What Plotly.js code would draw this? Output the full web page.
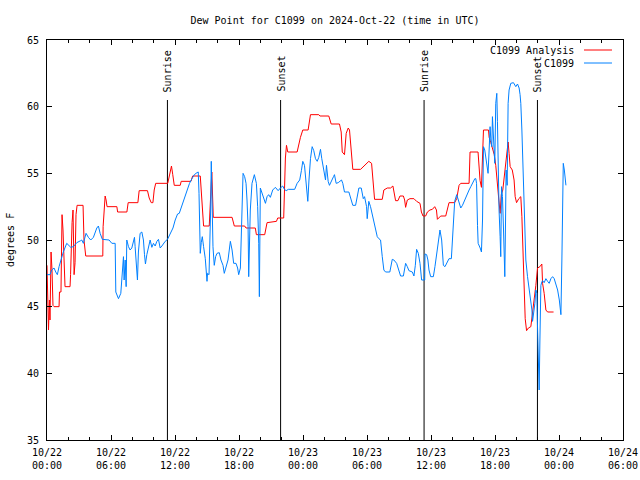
<!DOCTYPE html>
<html>
<head>
<meta charset="utf-8">
<script src="https://cdn.plot.ly/plotly-3.0.1.min.js"></script>
<style>html,body{margin:0;padding:0;background:#fff;}#chart{width:640px;height:480px;}</style>
</head>
<body>
<div id="chart"></div>
<script>
// Hours since 2024-10-22 00:00 UTC
var analysisHours = [0,0.05,0.14,0.23,0.28,0.38,0.47,0.56,0.66,1.13,1.17,1.31,1.41,1.50,1.60,1.69,2.16,2.21,2.35,2.44,2.54,2.63,2.72,2.82,3.38,3.47,3.63,5.23,5.26,5.45,5.54,5.63,6.55,6.62,7.49,7.61,8.52,8.64,9.42,9.58,9.77,9.93,10.05,10.19,11.32,11.43,11.55,11.67,11.79,11.93,12.49,12.58,13.50,13.65,14.37,14.53,14.68,15.21,15.40,15.45,15.59,17.35,17.56,18.53,18.66,19.53,19.63,20.41,20.63,21.51,21.63,22.19,22.35,22.45,22.57,23.45,23.76,23.98,24.48,24.70,25.48,25.59,26.42,26.64,27.42,27.58,27.68,27.89,28.05,28.24,28.36,28.48,28.67,29.40,29.65,29.87,30.17,30.43,30.64,30.71,31.43,31.58,31.90,32.21,32.43,32.52,32.68,32.90,33.09,33.41,33.53,33.62,33.78,34.03,34.40,34.65,34.97,35.10,35.25,35.50,35.66,35.90,36.13,36.35,36.51,36.60,36.75,36.91,37.38,37.54,37.69,38.22,38.41,38.63,38.79,39.57,39.66,40.41,40.51,40.60,40.73,40.81,40.92,41.39,41.45,41.61,41.76,41.93,42.07,42.23,42.36,42.48,42.59,42.73,42.87,43.01,43.15,43.23,43.32,43.42,43.62,43.79,43.89,44.02,44.23,44.42,44.52,44.64,44.73,44.83,44.96,45.13,45.36,45.52,45.69,45.83,45.99,46.21,46.39,46.46,46.61,46.77,46.93,47.49];
var analysisDewF = [48.1,46.1,43.25,45.5,44.0,49.1,47.75,45.1,45.0,45.0,46.1,46.1,51.9,50.75,48.9,46.5,46.5,47.4,51.3,52.25,47.4,48.3,51.9,52.6,52.6,50.0,48.8,48.8,51.0,53.3,53.0,52.5,52.5,52.1,52.1,52.8,52.8,53.7,53.7,53.15,52.8,52.8,53.75,54.25,54.25,54.65,55.25,55.55,54.9,54.1,54.1,54.4,54.4,54.8,54.8,53.0,51.05,51.05,54.5,55.1,51.7,51.7,51.05,51.05,50.9,50.9,50.4,50.4,51.3,51.4,51.65,51.65,56.15,57.1,56.6,56.6,57.7,58.25,58.25,59.4,59.4,59.3,59.3,58.7,58.7,58.1,56.6,56.4,58.0,58.4,58.25,56.9,55.3,55.3,55.5,55.6,55.9,55.75,53.75,53.05,53.05,53.75,53.9,53.9,54.05,53.6,52.95,52.95,53.3,53.3,53.0,52.45,53.0,53.1,53.1,52.9,52.75,52.1,51.8,51.8,52.1,52.25,52.3,52.5,52.25,51.55,51.7,51.8,51.8,52.25,52.8,52.8,53.1,54.1,54.25,54.25,56.6,56.6,55.25,54.45,53.95,56.0,58.25,58.25,57.7,57.3,56.95,56.4,55.6,53.9,53.0,52.0,53.4,53.75,54.65,55.6,56.75,57.35,56.5,55.5,55.25,54.5,53.25,52.8,53.1,53.25,51.75,48.75,45.75,44.1,43.2,43.4,43.5,44.5,45.5,46.6,47.9,48.0,48.2,46.75,46.0,44.75,44.6,44.6];

var stationHours = [0,0.28,0.44,0.66,0.82,0.97,1.13,1.29,1.53,1.85,2.00,2.23,2.47,2.79,3.16,3.26,3.41,3.54,3.66,3.88,4.10,4.35,4.67,4.82,4.98,5.19,5.61,5.82,6.08,6.39,6.45,6.70,6.92,7.07,7.17,7.23,7.33,7.42,7.48,7.64,7.79,7.95,8.10,8.20,8.26,8.36,8.48,8.57,8.73,8.89,9.04,9.14,9.23,9.36,9.51,9.67,9.83,9.98,10.14,10.30,10.45,10.61,10.77,11.08,11.30,11.55,11.81,12.02,12.24,12.40,12.65,12.87,13.12,13.36,13.59,13.81,14.06,14.18,14.25,14.30,14.37,14.46,14.56,14.68,14.84,15.00,15.05,15.19,15.24,15.34,15.40,15.47,15.56,15.68,15.81,15.94,16.15,16.31,16.50,16.62,16.81,16.97,17.19,17.35,17.50,17.72,17.87,17.97,18.13,18.25,18.38,18.53,18.66,18.75,18.85,18.91,18.97,19.06,19.22,19.44,19.63,19.75,19.85,19.91,20.00,20.16,20.32,20.48,20.63,20.78,20.94,21.16,21.41,21.67,21.88,22.10,22.26,22.42,22.63,23.22,23.45,23.69,23.85,23.98,24.14,24.30,24.45,24.56,24.70,24.86,25.01,25.17,25.33,25.48,25.64,25.76,25.89,26.01,26.11,26.20,26.36,26.48,26.67,26.86,26.95,27.11,27.30,27.52,27.61,27.73,27.89,28.30,28.48,28.67,28.93,29.09,29.24,29.46,29.65,29.77,29.96,30.02,30.17,30.33,30.49,30.64,30.80,30.96,31.11,31.27,31.43,31.58,31.74,32.14,32.37,32.52,32.78,32.99,33.15,33.41,33.62,33.78,33.93,34.25,34.40,34.53,34.65,34.81,34.97,35.12,35.41,35.44,35.59,35.71,35.81,35.97,36.22,36.37,36.53,36.65,36.84,37.00,37.07,37.16,37.31,37.54,37.69,37.91,38.00,38.10,38.22,38.41,38.63,38.79,38.95,39.10,39.35,39.57,39.73,39.89,40.04,40.11,40.20,40.27,40.36,40.42,40.61,40.73,40.83,40.88,40.92,41.04,41.14,41.30,41.35,41.45,41.54,41.61,41.70,41.76,41.86,41.92,41.98,42.07,42.17,42.23,42.29,42.38,42.48,42.54,42.61,42.70,42.80,42.92,42.99,43.04,43.14,43.23,43.32,43.48,43.73,43.86,43.95,44.11,44.26,44.35,44.42,44.52,44.61,44.68,44.80,44.89,45.05,45.17,45.30,45.46,45.52,45.62,45.74,45.83,45.93,45.97,46.05,46.14,46.21,46.30,46.39,46.46,46.61,46.77,46.93,47.08,47.24,47.40,47.55,47.71,47.87,48.03,48.12,48.18,48.27,48.34,48.40,48.50,48.59,48.65];
var stationDewF = [47.4,47.4,47.75,47.9,47.6,47.4,48.0,48.5,49.1,49.75,49.6,49.45,49.5,49.8,49.95,50.0,49.75,50.2,50.5,50.2,50.0,50.2,50.9,51.05,50.5,50.05,50.0,50.0,49.75,49.75,46.1,45.6,46.0,47.6,48.75,47.0,48.5,46.5,50.0,49.5,49.25,49.4,49.9,50.2,49.5,48.5,47.0,49.1,50.5,50.6,50.0,48.9,48.2,48.9,49.45,50.0,49.45,49.75,49.55,49.9,50.05,49.4,49.55,49.9,50.05,50.45,50.9,51.5,51.95,52.0,52.6,53.2,53.75,54.25,54.6,54.9,55.05,55.1,53.5,51.5,49.0,49.8,50.25,49.5,48.6,46.9,47.5,47.4,48.6,52.25,55.9,52.5,49.5,48.1,48.75,49.0,49.05,48.5,48.1,47.5,48.0,48.5,49.9,49.25,48.25,48.25,47.9,47.4,47.9,50.75,55.0,54.75,54.25,53.0,51.0,47.25,50.0,52.25,54.25,54.9,54.25,52.5,49.75,45.75,53.9,53.5,53.1,52.75,53.25,53.4,53.2,53.75,53.95,53.7,53.9,54.05,53.8,53.7,53.8,53.8,54.25,54.5,55.2,55.9,55.6,54.4,52.9,54.5,56.1,57.0,56.7,56.1,55.9,56.2,56.8,56.1,55.4,54.75,54.5,55.6,54.4,54.1,54.5,54.75,54.9,54.25,54.3,54.4,54.5,54.25,53.6,53.6,53.1,52.6,52.6,53.25,53.9,53.9,53.1,53.25,52.5,51.6,52.9,52.5,51.9,51.6,51.0,50.25,50.1,50.0,48.75,47.75,47.6,47.6,48.55,48.5,48.25,47.7,47.3,47.3,48.25,48.0,47.7,47.6,47.3,48.1,49.3,49.0,48.25,47.0,47.0,48.95,48.9,48.5,47.75,47.25,47.25,48.0,48.9,49.6,50.75,50.0,49.0,48.1,48.0,48.4,48.6,48.6,50.0,52.0,52.9,53.4,52.9,52.4,52.6,52.9,53.25,53.75,54.0,54.25,54.4,54.6,54.6,54.25,51.1,49.75,49.4,49.1,51.5,54.0,57.0,56.75,56.25,55.4,55.0,56.75,58.5,57.5,57.0,59.25,57.75,56.5,55.75,60.25,61.0,58.9,55.5,52.25,50.25,48.75,54.0,53.25,50.75,47.25,51.5,55.25,54.1,60.25,61.25,61.75,61.8,61.6,61.5,61.7,61.4,60.9,60.25,58.25,56.0,54.5,50.75,48.5,47.25,46.5,45.75,44.75,43.9,44.5,45.25,46.25,46.0,44.0,40.75,38.75,42.5,46.6,46.85,46.95,46.8,47.1,46.9,46.75,47.1,47.25,47.1,46.6,46.25,45.5,44.75,44.4,48.5,52.75,55.75,55.25,54.5,54.1];

var seriesNames = ["C1099 Analysis", "C1099"];
var seriesColors = ["#ff0000", "#0080ff"];

var eventHours = [11.29, 21.90, 35.35, 45.98];
var eventLabels = ["Sunrise", "Sunset", "Sunrise", "Sunset"];
var eventLineTop = 60.5;

var xTickVals = [0, 6, 12, 18, 24, 30, 36, 42, 48, 54];
var xTickText = ["10/22<br>00:00","10/22<br>06:00","10/22<br>12:00","10/22<br>18:00","10/23<br>00:00","10/23<br>06:00","10/23<br>12:00","10/23<br>18:00","10/24<br>00:00","10/24<br>06:00"];

var FONT = "DejaVu Sans Mono, monospace";

var traces = [
  {x: analysisHours, y: analysisDewF, type: "scatter", mode: "lines", name: seriesNames[0],
   line: {color: seriesColors[0], width: 1}, showlegend: false, hoverinfo: "skip"},
  {x: stationHours, y: stationDewF, type: "scatter", mode: "lines", name: seriesNames[1],
   line: {color: seriesColors[1], width: 1}, showlegend: false, hoverinfo: "skip"}
];

var shapes = [];
var annotations = [];
eventHours.forEach(function (h, i) {
  shapes.push({type: "line", xref: "x", yref: "y", x0: h, x1: h, y0: 35, y1: eventLineTop,
               line: {color: "#000", width: 1}, layer: "below"});
  annotations.push({xref: "x", yref: "y", x: h, y: eventLineTop, text: eventLabels[i],
                    textangle: -90, showarrow: false, xanchor: "center", yanchor: "bottom",
                    yshift: 6, font: {family: FONT, size: 10, color: "#000"}});
});

// gnuplot-style key: text right-justified, sample line to its right
var keyY = [0.975, 0.9425];
seriesNames.forEach(function (n, i) {
  annotations.push({xref: "paper", yref: "paper", x: 0.9184, y: keyY[i], text: n,
                    showarrow: false, xanchor: "right", yanchor: "middle",
                    font: {family: FONT, size: 10, color: "#000"}});
  shapes.push({type: "line", xref: "paper", yref: "paper", x0: 0.9323, x1: 0.9809,
               y0: keyY[i], y1: keyY[i], line: {color: seriesColors[i], width: 1}});
});

annotations.push({xref: "paper", yref: "paper", x: -0.0642, y: 0.5, text: "degrees F",
                  textangle: -90, showarrow: false, xanchor: "center", yanchor: "middle",
                  font: {family: FONT, size: 10, color: "#000"}});

var layout = {
  width: 640, height: 480,
  margin: {l: 47, r: 17, t: 40, b: 40, pad: 0},
  paper_bgcolor: "#fff", plot_bgcolor: "#fff",
  title: {text: "Dew Point for C1099 on 2024-Oct-22 (time in UTC)", x: 0.5, xref: "paper",
          y: 0.958, yref: "container", yanchor: "middle",
          font: {family: FONT, size: 10, color: "#000"}},
  font: {family: FONT, size: 10, color: "#000"},
  xaxis: {range: [0, 54], tickmode: "array", tickvals: xTickVals, ticktext: xTickText,
          ticks: "inside", ticklen: 5, tickcolor: "#000", tickwidth: 1,
          showline: true, linecolor: "#000", linewidth: 1, mirror: "ticks",
          showgrid: false, zeroline: false, automargin: false, fixedrange: true,
          ticklabelstandoff: 3,
          minor: {tick0: 0, dtick: 2, ticks: "inside", ticklen: 3, tickcolor: "#000", showgrid: false},
          tickfont: {family: FONT, size: 10, color: "#000"}},
  yaxis: {range: [35, 65], tick0: 35, dtick: 5, tickmode: "linear",
          ticks: "inside", ticklen: 5, tickcolor: "#000", tickwidth: 1,
          showline: true, linecolor: "#000", linewidth: 1, mirror: "ticks",
          showgrid: false, zeroline: false, automargin: false, fixedrange: true,
          ticklabelstandoff: 5,
          tickfont: {family: FONT, size: 10, color: "#000"}},
  shapes: shapes,
  annotations: annotations,
  showlegend: false,
  hovermode: false
};

Plotly.newPlot("chart", traces, layout, {displayModeBar: false, staticPlot: true});
</script>
</body>
</html>
